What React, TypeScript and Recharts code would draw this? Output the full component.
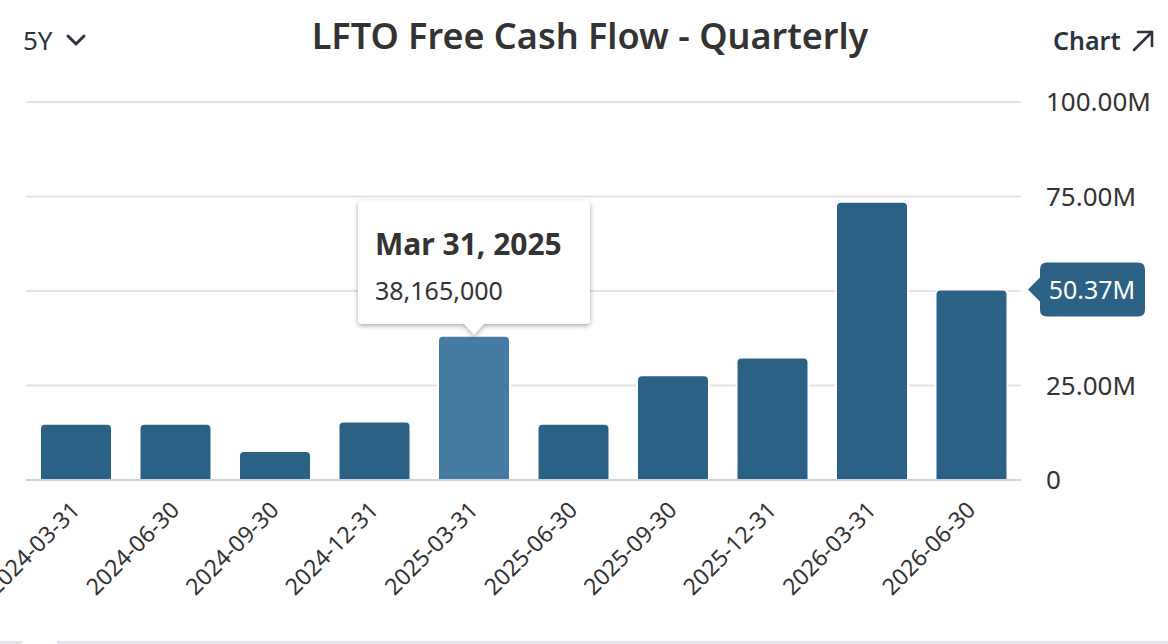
import { BarChart, Bar, XAxis, YAxis, CartesianGrid, Cell, LabelList, ReferenceLine } from 'recharts'

const quarters = [
  '2024-03-31',
  '2024-06-30',
  '2024-09-30',
  '2024-12-31',
  '2025-03-31',
  '2025-06-30',
  '2025-09-30',
  '2025-12-31',
  '2026-03-31',
  '2026-06-30',
]

const freeCashFlow = [
  14900000, 14900000, 7700000, 15500000, 38165000, 14900000, 27700000, 32400000, 73600000, 50370000,
]

const yTicks = [0, 25000000, 50000000, 75000000, 100000000]

const activeIndex = 4
const activeLabel = 'Mar 31, 2025'
const latestValue = 50370000

const data = quarters.map((date, i) => ({ date, fcf: freeCashFlow[i] }))

const FONT = '"Segoe UI", "Noto Sans", "Open Sans", sans-serif'
const BAR = '#2c6186'
const BAR_ACTIVE = '#477ca2'
const TEXT = '#333333'
const DARK = '#2b3442'

const formatAxis = (v: number) => (v === 0 ? '0' : `${(v / 1e6).toFixed(2)}M`)

// right axis ticks; the one under the latest-value badge is covered by it
function AxisTick(props: any) {
  const { x, y, payload } = props
  if (Math.abs(payload.value - latestValue) < 5000000) return null
  return (
    <text x={x} y={y} dy="0.36em" fontSize={26} fill={TEXT} fontFamily={FONT} textAnchor="start">
      {formatAxis(payload.value)}
    </text>
  )
}

// hover card drawn above the highlighted bar
function HoverCard(props: any) {
  const { x, y, width, index } = props
  if (index !== activeIndex) return null
  const cx = x + width / 2
  const left = cx - 116
  const top = y - 135
  const bottom = y - 12
  return (
    <g>
      <defs>
        <filter id="cardShadow" x="-20%" y="-20%" width="140%" height="150%">
          <feDropShadow dx="0" dy="2" stdDeviation="2.5" floodColor="#000" floodOpacity="0.35" />
        </filter>
      </defs>
      <path
        d={`M${left + 4},${top} H${left + 228} Q${left + 232},${top} ${left + 232},${top + 4} V${bottom - 4} Q${left + 232},${bottom} ${left + 228},${bottom} H${cx + 10} L${cx},${y - 1} L${cx - 10},${bottom} H${left + 4} Q${left},${bottom} ${left},${bottom - 4} V${top + 4} Q${left},${top} ${left + 4},${top} Z`}
        fill="#fff"
        filter="url(#cardShadow)"
      />
      <text x={left + 17} y={top + 54} fontSize={30} fontWeight={700} fill={TEXT} fontFamily={FONT}>
        {activeLabel}
      </text>
      <text x={left + 17} y={top + 99} fontSize={25} fill={TEXT} fontFamily={FONT}>
        {freeCashFlow[activeIndex].toLocaleString('en-US')}
      </text>
    </g>
  )
}

// value badge pinned to the right axis
function LatestBadge(props: any) {
  const vb = props.viewBox
  if (!vb) return null
  const x0 = vb.x + vb.width + 7
  const y0 = vb.y
  return (
    <g>
      <path
        d={`M${x0},${y0} L${x0 + 12},${y0 - 12} V${y0 - 20} Q${x0 + 12},${y0 - 27} ${x0 + 19},${y0 - 27} H${x0 + 110} Q${x0 + 117},${y0 - 27} ${x0 + 117},${y0 - 20} V${y0 + 20} Q${x0 + 117},${y0 + 27} ${x0 + 110},${y0 + 27} H${x0 + 19} Q${x0 + 12},${y0 + 27} ${x0 + 12},${y0 + 20} V${y0 + 12} Z`}
        fill={BAR}
      />
      <text
        x={x0 + 64}
        y={y0}
        dy="0.36em"
        textAnchor="middle"
        fontSize={25}
        fill="#fff"
        fontFamily={FONT}
      >
        {formatAxis(latestValue)}
      </text>
    </g>
  )
}

export default function App() {
  return (
    <div
      style={{
        position: 'absolute',
        left: 0,
        top: 0,
        width: 1168,
        height: 644,
        background: '#fff',
        fontFamily: FONT,
        overflow: 'hidden',
      }}
    >
      <div style={{ position: 'absolute', left: 23, top: 23, fontSize: 26, color: DARK, lineHeight: '34px' }}>5Y</div>
      <svg style={{ position: 'absolute', left: 64, top: 30 }} width={26} height={20}>
        <polyline points="4,6 12,14 20,6" fill="none" stroke={DARK} strokeWidth={3} strokeLinecap="round" strokeLinejoin="round" />
      </svg>
      <div
        style={{
          position: 'absolute',
          left: 0,
          width: 1180,
          top: 12,
          textAlign: 'center',
          fontSize: 36,
          fontWeight: 600,
          color: TEXT,
          lineHeight: '48px',
        }}
      >
        LFTO Free Cash Flow - Quarterly
      </div>
      <div
        style={{ position: 'absolute', left: 1053, top: 24, fontSize: 25, fontWeight: 600, color: DARK, lineHeight: '32px' }}
      >
        Chart
      </div>
      <svg style={{ position: 'absolute', left: 1130, top: 28 }} width={28} height={26}>
        <polyline points="4,22 22,4" fill="none" stroke={DARK} strokeWidth={2.6} strokeLinecap="round" />
        <polyline points="8,4 22,4 22,18" fill="none" stroke={DARK} strokeWidth={2.6} strokeLinecap="round" strokeLinejoin="round" />
      </svg>

      <div style={{ position: 'absolute', left: 0, top: 0 }}>
        <BarChart
          width={1168}
          height={644}
          data={data}
          margin={{ top: 102, right: 0, left: 26, bottom: 0 }}
          barSize={72}
        >
          <CartesianGrid vertical={false} stroke="#e3e3e3" strokeWidth={2} />
          <XAxis
            dataKey="date"
            axisLine={{ stroke: '#c9d3e1', strokeWidth: 2 }}
            tickLine={false}
            height={164}
            interval={0}
            angle={-45}
            textAnchor="end"
            tickMargin={14}
            tick={{ fontSize: 23, fill: TEXT, fontFamily: FONT, dx: -6 }}
          />
          <YAxis
            orientation="right"
            width={147}
            domain={[0, 100000000]}
            ticks={yTicks}
            axisLine={false}
            tickLine={false}
            tickSize={0}
            tickMargin={25}
            tick={<AxisTick />}
          />
          <Bar dataKey="fcf" stroke="#fff" strokeWidth={2} radius={[5, 5, 0, 0]} isAnimationActive={false}>
            {data.map((d, i) => (
              <Cell key={d.date} fill={i === activeIndex ? BAR_ACTIVE : BAR} />
            ))}
            <LabelList dataKey="fcf" content={<HoverCard />} />
          </Bar>
          <ReferenceLine y={latestValue} stroke="none" label={<LatestBadge />} ifOverflow="visible" />
        </BarChart>
      </div>

      <div style={{ position: 'absolute', left: 0, top: 641, width: 22, height: 3, background: '#e2e4e9' }} />
      <div style={{ position: 'absolute', left: 57, top: 641, width: 1111, height: 3, background: '#e2e4e9' }} />
    </div>
  )
}
